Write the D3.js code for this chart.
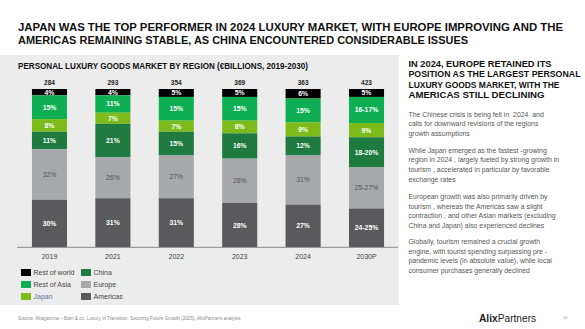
<!DOCTYPE html>
<html><head><meta charset="utf-8">
<script src="https://cdn.jsdelivr.net/npm/d3@7"></script>
<style>
html,body{margin:0;padding:0;background:#fff;overflow:hidden}
svg{display:block}
text{font-family:"Liberation Sans",Arial,sans-serif}
</style></head>
<body>
<svg id="c" width="585" height="329"></svg>
<script>
// ---- data ----
const years = ["2019","2021","2022","2023","2024","2030P"];
const totals = ["284","293","354","369","363","423"];
const regions = ["Rest of world","Rest of Asia","Japan","China","Europe","Americas"];
const restOfWorld = [4,4,5,5,6,5];
const restOfAsia = [15,11,15,15,15,16.5];
const japan = [8,7,7,8,9,9];
const china = [11,21,15,16,12,19];
const europe = [32,26,27,28,31,26];
const americas = [30,31,31,28,27,24.5];
const restOfWorldLbl = ["4%","4%","5%","5%","6%","5%"];
const restOfAsiaLbl = ["15%","11%","15%","15%","15%","16-17%"];
const japanLbl = ["8%","7%","7%","8%","9%","9%"];
const chinaLbl = ["11%","21%","15%","16%","12%","18-20%"];
const europeLbl = ["32%","26%","27%","28%","31%","25-27%"];
const americasLbl = ["30%","31%","31%","28%","27%","24-25%"];

const colors = ["#000000","#0eae52","#7dbb1b","#1e7a3e","#a7a8ab","#5a5a5c"];
const labelColors = ["#fff","#fff","#fff","#fff","#555","#fff"];

const series = [restOfWorld,restOfAsia,japan,china,europe,americas];
const seriesLbl = [restOfWorldLbl,restOfAsiaLbl,japanLbl,chinaLbl,europeLbl,americasLbl];

const svg = d3.select("#c");

// grey panel
svg.append("rect").attr("x",0).attr("y",55).attr("width",399).attr("height",250).attr("fill","#ececec");

// title
const title = ["JAPAN WAS THE TOP PERFORMER IN 2024 LUXURY MARKET, WITH EUROPE IMPROVING AND THE",
               "AMERICAS REMAINING STABLE, AS CHINA ENCOUNTERED CONSIDERABLE ISSUES"];
const titleW = [545,450];
title.forEach((t,i)=>{
  svg.append("text").attr("x",18).attr("y",31+i*13.2).text(t)
    .attr("font-size",10.6).attr("font-weight","bold").attr("fill","#111")
    .attr("textLength",titleW[i]).attr("lengthAdjust","spacingAndGlyphs");
});

// subtitle
svg.append("text").attr("x",18).attr("y",69).text("PERSONAL LUXURY GOODS MARKET BY REGION (€BILLIONS, 2019-2030)")
  .attr("font-size",8.6).attr("font-weight","bold").attr("fill","#111")
  .attr("textLength",290).attr("lengthAdjust","spacingAndGlyphs");

// chart
const x = d3.scaleBand().domain(years).range([18,398]).paddingInner(0.447).paddingOuter(0.22);
const y = d3.scaleLinear().domain([0,100]).range([247.3,89]);

years.forEach((yr,i)=>{
  let cum = 100;
  series.forEach((s,k)=>{
    const top = cum, bot = cum - s[i];
    cum = bot;
    svg.append("rect").attr("x",x(yr)).attr("width",x.bandwidth())
      .attr("y",y(top)).attr("height",y(bot)-y(top)).attr("fill",colors[k]);
    svg.append("text").attr("x",x(yr)+x.bandwidth()/2).attr("y",(y(top)+y(bot))/2+2.4)
      .attr("text-anchor","middle").attr("font-size",6.8)
      .attr("font-weight",k===4?"normal":"bold").attr("fill",labelColors[k])
      .text(seriesLbl[k][i]);
  });
  svg.append("text").attr("x",x(yr)+x.bandwidth()/2).attr("y",85)
    .attr("text-anchor","middle").attr("font-size",6.5).attr("font-weight","bold").attr("fill","#222")
    .text(totals[i]);
});

// axis
const ax = svg.append("g").attr("transform","translate(0,247.3)").call(d3.axisBottom(x).tickSize(0).tickPadding(6.5));
ax.select(".domain").attr("stroke","#8a8a8a").attr("stroke-width",1).attr("d","M17,0H398");
ax.selectAll("text").attr("font-size",7).attr("fill","#444").attr("font-family","Liberation Sans, Arial, sans-serif");

// legend
const legPos = [[21,0],[21,1],[21,2],[81,0],[81,1],[81,2]];
regions.forEach((r,k)=>{
  const [lx,row] = legPos[k];
  const ly = 269 + row*12;
  svg.append("rect").attr("x",lx).attr("y",ly).attr("width",10).attr("height",7).attr("fill",colors[k]);
  svg.append("text").attr("x",lx+12.5).attr("y",ly+6.3).attr("font-size",7)
    .attr("fill", r==="Japan" ? "#5d7898" : "#444").text(r);
});

// source
svg.append("text").attr("x",18).attr("y",319.5).attr("font-size",4.7).attr("fill","#8a8a8a")
  .text("Source: Altagamma – Bain & co. Luxury in Transition: Securing Future Growth (2025), AlixPartners analysis");

// right heading
const head = ["IN 2024, EUROPE RETAINED ITS","POSITION AS THE LARGEST PERSONAL","LUXURY GOODS MARKET, WITH THE","AMERICAS STILL DECLINING"];
const headW = [143,172,151,136];
const headF = [9.2,8.6,9.2,9.2];
head.forEach((t,i)=>{
  svg.append("text").attr("x",408.5).attr("y",67+i*10.4).text(t)
    .attr("font-size",headF[i]).attr("font-weight","bold").attr("fill","#111")
    .attr("textLength",headW[i]).attr("lengthAdjust","spacingAndGlyphs");
});

// paragraphs
const paras = [
  ["The Chinese crisis is being felt in  2024  and","calls for downward revisions of the regions","growth assumptions"],
  ["While Japan emerged as the fastest -growing","region in 2024 , largely fueled by strong growth in","tourism , accelerated in particular by favorable","exchange rates"],
  ["European growth was also primarily driven by","tourism , whereas the Americas saw a slight","contraction , and other Asian markets (excluding","China and Japan) also experienced declines"],
  ["Globally, tourism remained a crucial growth","engine, with tourist spending surpassing pre -","pandemic levels (in absolute value), while local","consumer purchases generally declined"]
];
const paraY = [116.5,152.5,199,244];
paras.forEach((p,j)=>{
  p.forEach((line,i)=>{
    svg.append("text").attr("x",408.5).attr("y",paraY[j]+i*9.7).attr("font-size",6.9)
      .attr("fill","#555").attr("xml:space","preserve").style("white-space","pre").text(line);
  });
});

// logo
const logo = svg.append("text").attr("x",479).attr("y",321.5).attr("font-size",10.2).attr("fill","#1a1a1a");
logo.append("tspan").attr("font-weight","bold").text("Alix");
logo.append("tspan").text("Partners");
svg.append("text").attr("x",563).attr("y",319).attr("font-size",4).attr("fill","#999").text("10");
</script>
</body></html>
